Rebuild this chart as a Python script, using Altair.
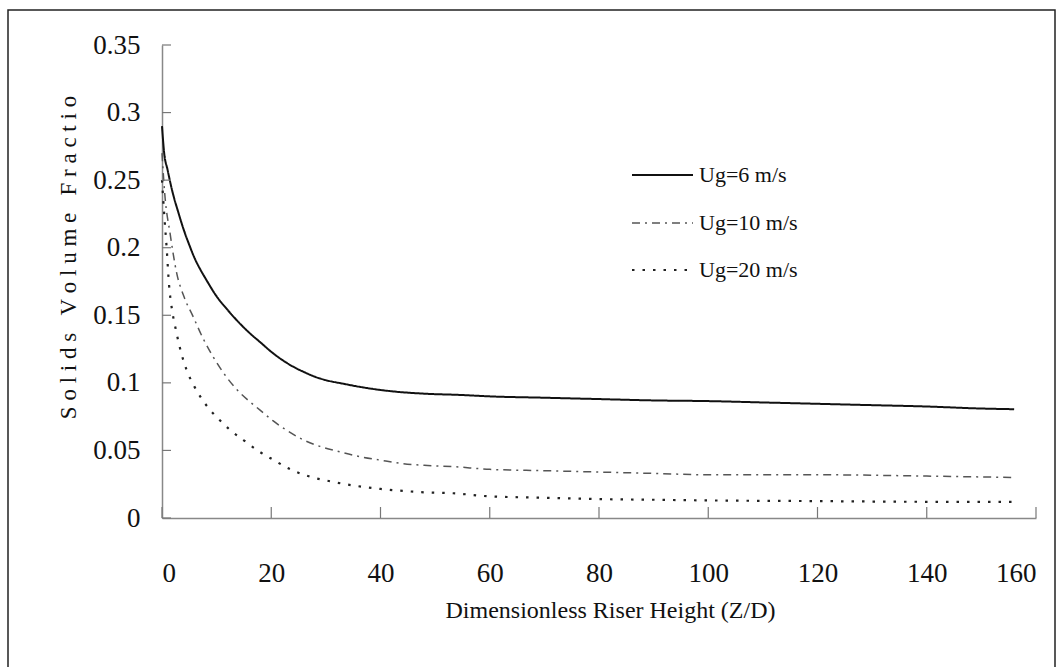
import altair as alt
import pandas as pd

# Solids volume fraction along the riser for three gas velocities
x_ug6 = [0, 0.4, 1, 2, 3, 4, 5, 6, 7, 8, 10, 12, 14, 16, 18, 20, 22, 24, 26, 28, 30,
         33, 37, 42, 48, 55, 60, 70, 80, 90, 100, 110, 120, 130, 140, 150, 156]
y_ug6 = [0.290, 0.270, 0.258, 0.240, 0.226, 0.213, 0.202, 0.192, 0.184, 0.177, 0.164,
         0.154, 0.145, 0.137, 0.130, 0.123, 0.117, 0.112, 0.108, 0.1045, 0.102, 0.0995,
         0.0965, 0.0938, 0.092, 0.091, 0.090, 0.089, 0.088, 0.087, 0.0865, 0.0855, 0.0845,
         0.0835, 0.0825, 0.081, 0.0805]

x_ug10 = [0, 0.5, 1.5, 2.7, 4, 5.7, 7.5, 9.4, 11.5, 13.7, 15.8, 17.9, 20.3, 22.8, 25.8,
          28.9, 32.5, 36.2, 40, 43.6, 48, 53.3, 60, 70, 80, 90, 100, 120, 140, 156]
y_ug10 = [0.27, 0.24, 0.21, 0.181, 0.164, 0.149, 0.133, 0.119, 0.106, 0.095, 0.087, 0.080,
          0.072, 0.065, 0.058, 0.053, 0.049, 0.0454, 0.0428, 0.0405, 0.039, 0.038, 0.036,
          0.035, 0.034, 0.033, 0.032, 0.032, 0.031, 0.030]

x_ug20 = [0, 0.4, 0.85, 1.3, 1.8, 2.5, 3.4, 4.5, 5.7, 7.3, 8.8, 10.3, 12.5, 14.9, 17.5,
          20.4, 23.5, 27.1, 31, 35.6, 40, 43.6, 48, 53.3, 60, 70, 80, 90, 100, 120, 140, 156]
y_ug20 = [0.25, 0.225, 0.200, 0.172, 0.155, 0.140, 0.124, 0.1095, 0.099, 0.088, 0.080,
          0.0735, 0.065, 0.0577, 0.050, 0.043, 0.036, 0.0306, 0.027, 0.0237, 0.0215, 0.0202,
          0.019, 0.0183, 0.016, 0.015, 0.014, 0.0135, 0.013, 0.0125, 0.012, 0.012]

series_labels = ["Ug=6 m/s", "Ug=10 m/s", "Ug=20 m/s"]
x_ticks = [0, 20, 40, 60, 80, 100, 120, 140, 160]
y_ticks = [0, 0.05, 0.1, 0.15, 0.2, 0.25, 0.3, 0.35]

W, H = 874, 473
FONT = "Liberation Serif"
NB = "\u00a0"
y_title = (NB * 3).join(NB.join(list(word)) for word in ["Solids", "Volume", "Fractio"])

styles = [
    {"color": "#111111", "width": 2.0, "dash": [1, 0]},
    {"color": "#555555", "width": 1.5, "dash": [8, 5, 2, 5]},
    {"color": "#222222", "width": 2.2, "dash": [2.5, 8]},
]
legend_rows = [130, 178, 225]

xs = [x_ug6, x_ug10, x_ug20]
ys = [y_ug6, y_ug10, y_ug20]

x_scale = alt.Scale(domain=[0, 160], nice=False, zero=False)
y_scale = alt.Scale(domain=[0, 0.35], nice=False)

x_axis = alt.Axis(
    values=x_ticks, grid=False, ticks=False, domainColor="#888888", domainWidth=1.5,
    labelFont=FONT, labelFontSize=27, labelColor="#111111", labelPadding=42,
    title="Dimensionless Riser Height (Z/D)", titleFont=FONT, titleFontSize=24,
    titleFontWeight="normal", titleColor="#111111", titleX=448, titleY=99,
    titleBaseline="alphabetic",
)
y_axis = alt.Axis(
    values=y_ticks, grid=False, ticks=False, domainColor="#888888", domainWidth=1.5,
    format=".2~f", labelFont=FONT, labelFontSize=27, labelColor="#111111",
    labelPadding=22, title=y_title, titleFont=FONT,
    titleFontSize=23, titleFontWeight="normal", titleColor="#111111",
    titleX=-94, titleY=212, titleBaseline="middle", titleAngle=-90,
)

layers = []
for lab, xv, yv, st in zip(series_labels, xs, ys, styles):
    df = pd.DataFrame({"z": xv, "v": yv, "series": lab})
    layers.append(
        alt.Chart(df).mark_line(
            color=st["color"], strokeWidth=st["width"], strokeDash=st["dash"],
            interpolate="monotone",
        ).encode(
            x=alt.X("z:Q", scale=x_scale, axis=x_axis),
            y=alt.Y("v:Q", scale=y_scale, axis=y_axis),
        )
    )

# inward tick marks on both axes
xt = alt.Chart(pd.DataFrame({"t": x_ticks})).mark_rule(color="#777777", strokeWidth=1.2).encode(
    x=alt.X("t:Q", scale=x_scale, axis=x_axis), y=alt.value(H), y2=alt.value(H - 11)
)
yt = alt.Chart(pd.DataFrame({"t": y_ticks})).mark_rule(color="#777777", strokeWidth=1.2).encode(
    y=alt.Y("t:Q", scale=y_scale, axis=y_axis), x=alt.value(0), x2=alt.value(9)
)
layers += [xt, yt]

# legend drawn inside the plot area
for lab, st, ry in zip(series_labels, styles, legend_rows):
    one = pd.DataFrame({"label": [lab]})
    layers.append(
        alt.Chart(one).mark_rule(color=st["color"], strokeWidth=st["width"], strokeDash=st["dash"]).encode(
            x=alt.value(470), x2=alt.value(531), y=alt.value(ry)
        )
    )
    layers.append(
        alt.Chart(one).mark_text(font=FONT, fontSize=22, align="left", baseline="middle", color="#111111").encode(
            text="label:N", x=alt.value(537), y=alt.value(ry)
        )
    )

# outer frame
frame = alt.Chart(pd.DataFrame({"f": [0]})).mark_rect(
    fillOpacity=0, stroke="#222222", strokeWidth=1.5
).encode(x=alt.value(-154), x2=alt.value(893), y=alt.value(-35), y2=alt.value(640))
layers.append(frame)

chart = alt.layer(*layers).properties(
    width=W, height=H,
    autosize=alt.AutoSizeParams(type="none"),
    padding={"left": 162, "top": 45, "right": 26, "bottom": 149},
    background="white",
).configure_view(stroke=None)

chart.save("out.html", embed_options={"renderer": "svg", "actions": False})
